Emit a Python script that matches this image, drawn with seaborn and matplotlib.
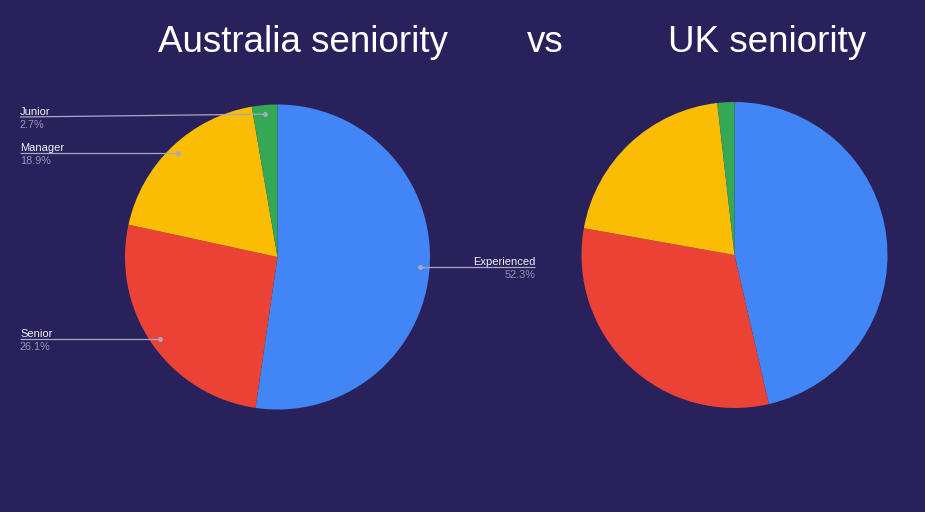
import matplotlib
matplotlib.use('Agg')
import matplotlib.pyplot as plt
import seaborn as sns
import numpy as np

# data
categories = ['Experienced', 'Senior', 'Manager', 'Junior']
au_share = [52.3, 26.1, 18.9, 2.7]
uk_share = [46.4, 31.4, 20.4, 1.8]
colors = ['#4285f4', '#ea4335', '#fbbc04', '#34a853']

bg = '#29215b'
line_col = '#a9a7c6'
pct_col = '#9896b6'

sns.set_theme(style='white')
plt.rcParams['font.family'] = ['Liberation Sans', 'DejaVu Sans']

W, H = 925, 512
fig = plt.figure(figsize=(W / 100, H / 100), dpi=100, facecolor=bg)


def pie_axes(cx, cy, r):
    # place an axes so the pie of radius 1 sits at pixel centre (cx, cy)
    return fig.add_axes([(cx - r) / W, (H - cy - r) / H, 2 * r / W, 2 * r / H])


ax_au = pie_axes(277.5, 257, 152.5)
ax_uk = pie_axes(734.5, 255, 153)
for ax, vals in ((ax_au, au_share), (ax_uk, uk_share)):
    ax.pie(vals, colors=colors, startangle=90, counterclock=False, radius=1,
           wedgeprops=dict(linewidth=0))
    ax.set_xlim(-1, 1)
    ax.set_ylim(-1, 1)
    ax.set_axis_off()

# overlay in pixel coords for the leader lines
ov = fig.add_axes([0, 0, 1, 1], zorder=5)
ov.set_xlim(0, W)
ov.set_ylim(H, 0)
ov.set_axis_off()
ov.patch.set_visible(False)

label_x = {'Experienced': 535, 'Senior': 20, 'Manager': 20, 'Junior': 20}
label_line_y = {'Junior': 117}

shares = np.array(au_share)
ends = np.cumsum(shares)
mids = (ends - shares / 2) / shares.sum() * 2 * np.pi
for cat, val, ang in zip(categories, au_share, mids):
    px, py = ax_au.transData.transform((0.94 * np.sin(ang), 0.94 * np.cos(ang)))
    py = H - py
    ly = label_line_y.get(cat, py)
    lx = label_x[cat]
    ov.plot([lx, px], [ly, py], color=line_col, lw=0.9, solid_capstyle='butt')
    ov.plot([px], [py], 'o', ms=2.5, color=line_col)
    ha = 'right' if lx > px else 'left'
    ov.text(lx, ly - 2, cat, ha=ha, va='baseline', fontsize=8, color='#f2f2f7')
    ov.text(lx, ly + 3, f'{val}%', ha=ha, va='top', fontsize=7.8, color=pct_col)

# titles
for txt, x in (('Australia seniority', 158), ('vs', 527), ('UK seniority', 668)):
    fig.text(x / W, (H - 52) / H, txt, ha='left', va='baseline',
             fontsize=26.5, color='white')

fig.savefig('out.png', dpi=100, facecolor=bg)
